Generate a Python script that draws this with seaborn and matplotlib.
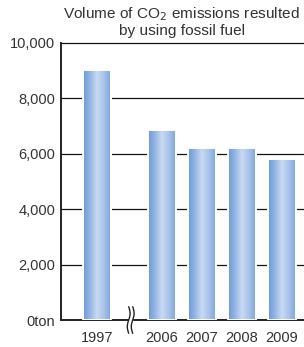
import numpy as np
import matplotlib
matplotlib.use("Agg")
import matplotlib.pyplot as plt
from matplotlib.colors import LinearSegmentedColormap
import seaborn as sns

# data
years = ["1997", "2006", "2007", "2008", "2009"]
emissions = [9020, 6850, 6220, 6220, 5800]
y_ticks = [0, 2000, 4000, 6000, 8000, 10000]
y_labels = ["0ton", "2,000", "4,000", "6,000", "8,000", "10,000"]

# layout: 1997 sits apart from the rest, with an axis break between
x_pos = [0, 1.625, 2.625, 3.625, 4.625]

sns.set_theme(style="white")
plt.rcParams["font.family"] = ["Liberation Sans", "DejaVu Sans"]
text_color = "#333333"

fig = plt.figure(figsize=(3.04, 3.47), dpi=100)
ax = fig.add_axes([61 / 304, 27 / 347, 243 / 304, 277 / 347])

sns.barplot(x=x_pos, y=emissions, native_scale=True, width=0.68,
            color="#8fb2e2", edgecolor="white", linewidth=1.4, ax=ax, zorder=3)

# horizontal gradient inside each bar
grad_cmap = LinearSegmentedColormap.from_list(
    "bar", ["#6c9bd6", "#94b6e4", "#c9daf2", "#a9c3ea", "#7ea6dc"])
grad = np.linspace(0, 1, 64).reshape(1, -1)
for patch in ax.patches:
    x0, y0 = patch.get_x(), patch.get_y()
    w, h = patch.get_width(), patch.get_height()
    ax.imshow(grad, cmap=grad_cmap, extent=[x0, x0 + w, y0, y0 + h],
              aspect="auto", zorder=2, interpolation="bicubic")
    patch.set_facecolor("none")

ax.set_xlim(-0.9, 5.175)
ax.set_ylim(0, 10000)

# gridlines
for yv in y_ticks[1:]:
    ax.axhline(yv, color="#111111", lw=0.9, zorder=1, clip_on=False)

ax.set_yticks(y_ticks)
ax.set_yticklabels(y_labels)
ax.set_xticks(x_pos)
ax.set_xticklabels(years)
ax.tick_params(axis="both", length=0, labelsize=10.5, colors=text_color)
ax.tick_params(axis="y", pad=4)
ax.tick_params(axis="x", pad=8)
ax.set_xlabel("")
ax.set_ylabel("")

for s in ["top", "right"]:
    ax.spines[s].set_visible(False)
for s in ["left", "bottom"]:
    ax.spines[s].set_color("#222222")
    ax.spines[s].set_linewidth(1.4)

# axis break mark
bx = 1.625 / 2 + 0.03
xt = ax.get_xaxis_transform()
ax.fill_between([bx - 0.04, bx + 0.04], -0.02, 0.02, color="white",
                transform=xt, zorder=5, clip_on=False)
t = np.linspace(-1, 1, 40)
yb = t * 0.048
for off in (-0.05, 0.05):
    xb = bx + off + 0.035 * np.sin(t * np.pi)
    ax.plot(xb, yb, color="#222222", lw=1.0, transform=xt,
            zorder=6, clip_on=False)

fig.text(181 / 304, 1 - 14 / 347, "Volume of CO$_2$ emissions resulted",
         ha="center", va="center", fontsize=11.1, color=text_color)
fig.text(182 / 304, 1 - 31 / 347, "by using fossil fuel",
         ha="center", va="center", fontsize=11.1, color=text_color)

fig.savefig("out.png", dpi=100)
